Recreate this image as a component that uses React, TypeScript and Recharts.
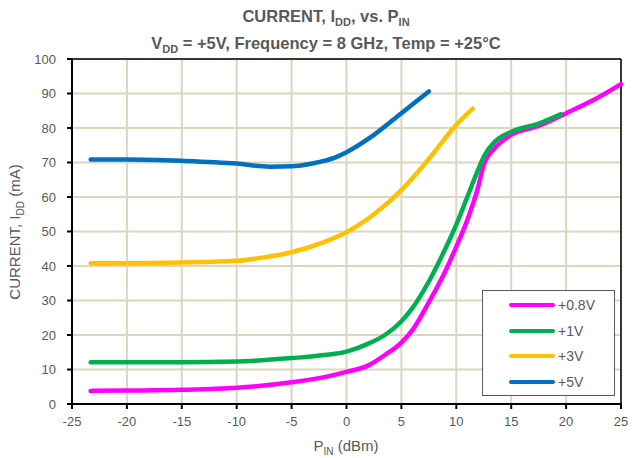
import React from 'react';
import { LineChart, Line, XAxis, YAxis, CartesianGrid, ReferenceLine } from 'recharts';

// P_IN (dBm) / I_DD (mA) per supply setting
const pin08 = [-23.3, -20, -15, -10, -5, -2, 0, 2, 3.5, 5, 6, 7.5, 9, 10, 11, 12, 12.5, 13.5, 15, 17.5, 20, 22.5, 25];
const idd08 = [3.8, 3.9, 4.1, 4.7, 6.3, 7.8, 9.3, 11.2, 14.2, 17.8, 21.4, 29.5, 38.5, 45.6, 53.3, 63, 69.3, 74.1, 78, 80.6, 84.3, 88.1, 92.7];

const pin1 = [-23.3, -20, -15, -10, -5, -2, 0, 2, 3.5, 5, 6, 7.5, 9, 10, 11, 12, 12.5, 13.5, 15, 17.5, 19.5];
const idd1 = [12.1, 12.1, 12.1, 12.3, 13.3, 14.2, 15.2, 17.5, 20, 24, 27.8, 35.5, 45, 52, 60, 68, 71.7, 76, 78.9, 81.3, 84];

const pin3 = [-23.3, -20, -15, -10, -7.5, -5, -2, 0, 2.5, 5, 7.5, 10, 11.5];
const idd3 = [40.8, 40.8, 41, 41.5, 42.5, 44, 47, 49.8, 55, 62, 71, 80.9, 85.6];

const pin5 = [-23.3, -20, -15, -10, -7, -5, -3, -1, 0, 2.5, 5, 7.5];
const idd5 = [70.9, 70.9, 70.5, 69.7, 68.8, 68.9, 69.8, 71.5, 73, 78, 84.3, 90.6];

const xTicks = [-25, -20, -15, -10, -5, 0, 5, 10, 15, 20, 25];
const yTicks = [0, 10, 20, 30, 40, 50, 60, 70, 80, 90, 100];

const zip = (xs: number[], ys: number[]) => xs.map((x, i) => ({ x, y: ys[i] }));

const series = [
  { name: '+0.8V', color: '#ff00ff', data: zip(pin08, idd08) },
  { name: '+1V', color: '#00b050', data: zip(pin1, idd1) },
  { name: '+3V', color: '#ffc000', data: zip(pin3, idd3) },
  { name: '+5V', color: '#0070c0', data: zip(pin5, idd5) },
];

const textColor = '#595959';
const font = '"Liberation Sans", Arial, sans-serif';

const LegendBox = () => (
  <div
    style={{
      position: 'absolute',
      left: 482,
      top: 290,
      width: 133,
      height: 106,
      border: '1px solid #595959',
      background: '#fff',
      fontSize: 14,
      color: textColor,
      paddingTop: 1,
      boxSizing: 'border-box',
    }}
  >
    {series.map((s) => (
      <div key={s.name} style={{ display: 'flex', alignItems: 'center', height: 25.7 }}>
        <div style={{ marginLeft: 26, width: 46, height: 4, borderRadius: 2, background: s.color }} />
        <span style={{ marginLeft: 3 }}>{s.name}</span>
      </div>
    ))}
  </div>
);

const App: React.FC = () => {
  return (
    <div style={{ position: 'absolute', left: 0, top: 0, width: 635, height: 458, background: '#fff', fontFamily: font }}>
      <div
        style={{
          position: 'absolute',
          left: 0,
          top: 6,
          width: 652,
          textAlign: 'center',
          fontWeight: 'bold',
          fontSize: 16.5,
          lineHeight: '21px',
          color: textColor,
          zIndex: 2,
        }}
      >
        <div>
          CURRENT, I<sub style={{ fontSize: 11 }}>DD</sub>, vs. P<sub style={{ fontSize: 11 }}>IN</sub>
        </div>
        <div>
          V<sub style={{ fontSize: 11 }}>DD</sub> = +5V, Frequency = 8 GHz, Temp = +25°C
        </div>
      </div>

      <LineChart width={635} height={458} margin={{ top: 59, right: 14, bottom: 24, left: 0 }}>
        <CartesianGrid stroke="#dcd6be" strokeWidth={2} />
        <XAxis
          type="number"
          dataKey="x"
          domain={[-25, 25]}
          ticks={xTicks}
          allowDuplicatedCategory={false}
          height={30}
          stroke="#000"
          strokeWidth={2}
          tickSize={5}
          tickMargin={8}
          tick={{ fill: textColor, fontSize: 13, fontFamily: font }}
        />
        <YAxis
          type="number"
          domain={[0, 100]}
          ticks={yTicks}
          width={72}
          stroke="#000"
          strokeWidth={2}
          tickSize={5}
          tickMargin={11}
          tick={{ fill: textColor, fontSize: 13, fontFamily: font }}
        />
        <ReferenceLine y={100} stroke="#000" strokeWidth={1.5} />
        <ReferenceLine x={25} stroke="#000" strokeWidth={1.5} />
        {series.map((s) => (
          <Line
            key={s.name}
            data={s.data}
            dataKey="y"
            name={s.name}
            type="monotone"
            stroke={s.color}
            strokeWidth={4.5}
            strokeLinecap="round"
            dot={false}
            isAnimationActive={false}
          />
        ))}
      </LineChart>

      <LegendBox />

      <div
        style={{
          position: 'absolute',
          left: 16,
          top: 232,
          transform: 'translate(-50%, -50%) rotate(-90deg)',
          whiteSpace: 'nowrap',
          fontSize: 15,
          color: textColor,
        }}
      >
        CURRENT, I<sub style={{ fontSize: 10 }}>DD</sub> (mA)
      </div>
      <div
        style={{
          position: 'absolute',
          left: 0,
          top: 437,
          width: 692,
          textAlign: 'center',
          whiteSpace: 'nowrap',
          fontSize: 15,
          color: textColor,
        }}
      >
        P<sub style={{ fontSize: 10 }}>IN</sub> (dBm)
      </div>
    </div>
  );
};

export default App;
